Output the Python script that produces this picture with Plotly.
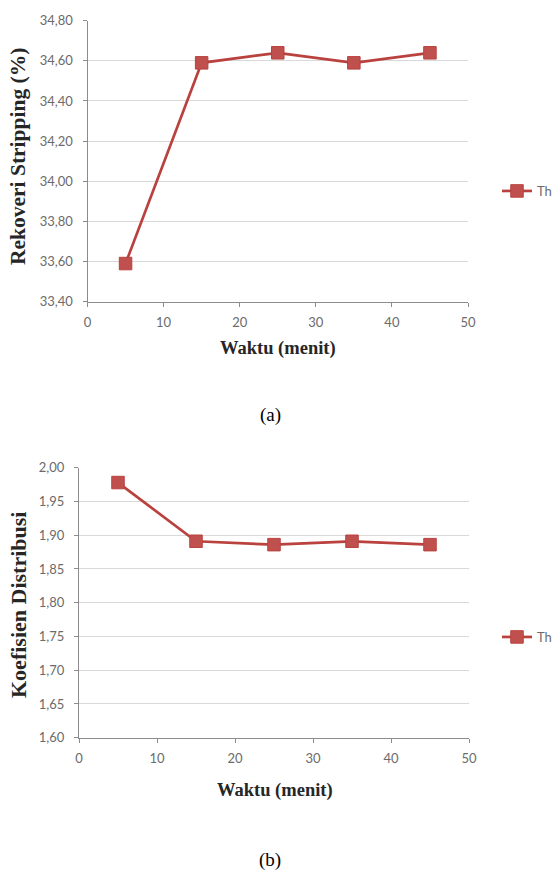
import plotly.graph_objects as go

# Data
waktu = [5, 15, 25, 35, 45]
rekoveri = [33.59, 34.59, 34.64, 34.59, 34.64]
koefisien = [1.978, 1.891, 1.886, 1.891, 1.886]
series_name = "Th"

x_ticks = [0, 10, 20, 30, 40, 50]
y1_ticks = [33.40, 33.60, 33.80, 34.00, 34.20, 34.40, 34.60, 34.80]
y2_ticks = [1.60, 1.65, 1.70, 1.75, 1.80, 1.85, 1.90, 1.95, 2.00]

W, H = 552, 870
line_col = "#b9413e"
mark_col = "#c0504d"
grid_col = "#d9d9d9"
axis_col = "#8c8c8c"
tick_font = dict(family="Lato, Liberation Sans, sans-serif", size=13, color="#6b6b6b")
title_font_family = "Liberation Serif, Times New Roman, serif"

def px_x(p):
    return p / W

def px_y(p):
    return 1 - p / H

fig = go.Figure()

fig.add_trace(go.Scatter(
    x=waktu, y=rekoveri, mode="lines+markers", name=series_name,
    line=dict(color=line_col, width=2.7),
    marker=dict(symbol="square", size=12.5, color=mark_col, line=dict(color=line_col, width=1)),
    xaxis="x", yaxis="y", legend="legend",
))
fig.add_trace(go.Scatter(
    x=waktu, y=koefisien, mode="lines+markers", name=series_name,
    line=dict(color=line_col, width=2.7),
    marker=dict(symbol="square", size=12.5, color=mark_col, line=dict(color=line_col, width=1)),
    xaxis="x2", yaxis="y2", legend="legend2",
))

common_x = dict(
    range=[0, 50], tickvals=x_ticks, showgrid=False, zeroline=False,
    showline=True, linecolor=axis_col, linewidth=1,
    ticks="outside", ticklen=4, tickcolor=axis_col, tickfont=tick_font,
    ticklabelstandoff=5, automargin=False,
)
common_y = dict(
    showgrid=True, gridcolor=grid_col, gridwidth=1, zeroline=False,
    showline=True, linecolor=axis_col, linewidth=1,
    ticks="outside", ticklen=4, tickcolor=axis_col, tickfont=tick_font,
    tickformat=".2f", ticklabelstandoff=7, automargin=False,
)

fig.update_layout(
    width=W, height=H,
    margin=dict(l=0, r=0, t=0, b=0, autoexpand=False),
    paper_bgcolor="white", plot_bgcolor="white",
    separators=",.",
    xaxis=dict(domain=[px_x(87.5), px_x(468)], anchor="y", **common_x),
    yaxis=dict(domain=[px_y(301.7), px_y(20.7)], anchor="x", range=[33.40, 34.80],
               tickvals=y1_ticks, **common_y),
    xaxis2=dict(domain=[px_x(79), px_x(469)], anchor="y2", **common_x),
    yaxis2=dict(domain=[px_y(737.7), px_y(467.7)], anchor="x2", range=[1.60, 2.00],
                tickvals=y2_ticks, **common_y),
    legend=dict(x=px_x(497), y=px_y(191), xanchor="left", yanchor="middle",
                bgcolor="rgba(0,0,0,0)", font=tick_font, itemwidth=30),
    legend2=dict(x=px_x(497), y=px_y(637), xanchor="left", yanchor="middle",
                 bgcolor="rgba(0,0,0,0)", font=tick_font, itemwidth=30),
    showlegend=True,
)

title_font = dict(family=title_font_family, size=18.5, color="#262626")
annotations = [
    dict(text="<b>Waktu (menit)</b>", x=px_x(278), y=px_y(348), font=title_font),
    dict(text="<b>Waktu (menit)</b>", x=px_x(275), y=px_y(790), font=title_font),
    dict(text="<b>Rekoveri Stripping (%)</b>", x=px_x(18), y=px_y(157), textangle=-90,
         font=dict(family=title_font_family, size=21.5, color="#262626")),
    dict(text="<b>Koefisien Distribusi</b>", x=px_x(18), y=px_y(605), textangle=-90,
         font=dict(family=title_font_family, size=22, color="#262626")),
    dict(text="(a)", x=px_x(270), y=px_y(415), font=dict(family=title_font_family, size=19, color="black")),
    dict(text="(b)", x=px_x(270), y=px_y(860), font=dict(family=title_font_family, size=19, color="black")),
]
for a in annotations:
    a.update(xref="paper", yref="paper", showarrow=False, xanchor="center", yanchor="middle")
fig.update_layout(annotations=annotations)

fig.write_html(
    "out.html",
    config={"displayModeBar": False},
    post_script="document.body.style.margin='0';document.body.style.padding='0';",
)
